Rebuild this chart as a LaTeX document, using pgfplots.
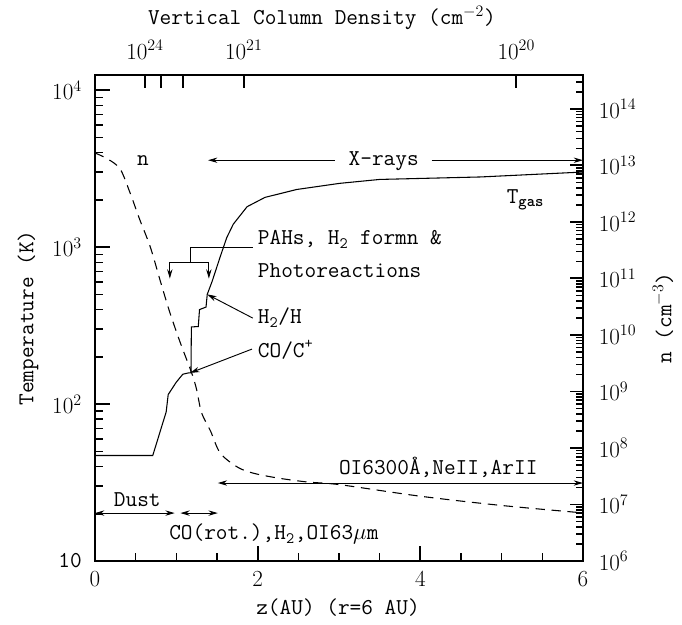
\documentclass[border=0pt]{standalone}
\usepackage{pgfplots}
\pgfplotsset{compat=1.18}
\usetikzlibrary{arrows.meta}
\renewcommand{\familydefault}{\ttdefault}

% gas temperature (z in AU, T in K)
\pgfplotstableread{
z T
0.00 47
0.71 47
0.76 57
0.82 72
0.875 89
0.90 115
1.00 138
1.08 155
1.15 158
1.18 158
1.185 310
1.27 312
1.285 400
1.365 415
1.38 500
1.44 605
1.54 870
1.62 1150
1.70 1400
1.87 1810
2.09 2075
2.48 2330
3.01 2550
3.50 2700
4.74 2800
6.00 3010
}\tgas

% density (z in AU, n in cm^-3)
\pgfplotstableread{
z n
0.00 1.66e13
0.16 1.29e13
0.31 8.6e12
0.43 3.3e12
0.55 1.1e12
0.68 3.6e11
0.80 9.3e10
0.92 2.5e10
1.05 7.2e9
1.19 2.1e9
1.25 1.07e9
1.31 4.2e8
1.42 2.0e8
1.54 8.1e7
1.75 4.6e7
1.94 3.6e7
2.24 2.95e7
2.61 2.5e7
3.01 2.24e7
4.00 1.4e7
5.00 9.6e6
6.00 7.1e6
}\dens

\begin{document}
\fontsize{17}{20}\selectfont
\begin{tikzpicture}[lab/.style={inner sep=0pt},
  arr/.style={line width=0.7pt,-{Stealth[length=7pt,width=4pt]}},
  darr/.style={line width=0.7pt,{Stealth[length=7pt,width=4pt]}-{Stealth[length=7pt,width=4pt]}},
  tk/.style={line width=1.2pt}, mtk/.style={line width=1pt}]
\begin{axis}[name=main,
  scale only axis, width=366pt, height=364.5pt,
  xmin=0, xmax=6, ymode=log, ymin=10, ymax=12500,
  axis line style={line width=1.4pt},
  tick align=inside,
  major tick style={black, line width=1.4pt},
  minor tick style={black, line width=1.2pt},
  xtick pos=left, ytick pos=left,
  major tick length=11pt, minor tick length=6pt,
  xtick={0,2,4,6}, minor x tick num=3,
  ytick={10,100,1000,10000},
  yticklabels={10,$10^2$,$10^3$,$10^4$},
  minor ytick={20,30,40,50,60,70,80,90,200,300,400,500,600,700,800,900,
    2000,3000,4000,5000,6000,7000,8000,9000},
  yticklabel style={xshift=-4pt},
  xticklabel style={yshift=-2pt},
  xlabel={z(AU) (r=6 AU)},
  ylabel={Temperature (K)},
  xlabel style={at={(axis description cs:0.498,-0.095)}, anchor=center},
  ylabel style={at={(axis description cs:-0.137,0.5)}, anchor=center},
  clip=false,
]
\addplot[line width=0.8pt] table[x=z, y=T] {\tgas};

% tick marks along the bottom and left edges
\pgfplotsinvokeforeach{2,4}{\draw[tk] (axis cs:#1,10) -- ++(0pt,11pt);}
\pgfplotsinvokeforeach{0.5,1,1.5,2.5,3,3.5,4.5,5,5.5}{\draw[mtk] (axis cs:#1,10) -- ++(0pt,6pt);}
\pgfplotsinvokeforeach{100,1000,10000}{\draw[tk] (axis cs:0,#1) -- ++(11pt,0pt);}
\pgfplotsinvokeforeach{20,30,40,50,60,70,80,90,200,300,400,500,600,700,800,900,2000,3000,4000,5000,6000,7000,8000,9000}{\draw[mtk] (axis cs:0,#1) -- ++(6pt,0pt);}

% X-rays
\draw[arr] (axis cs:2.95,3580) -- (axis cs:1.39,3580);
\draw[arr] (axis cs:4.14,3580) -- (axis cs:6,3580);
\node[anchor=mid] at (axis cs:3.55,3580) {X-rays};
\node[anchor=mid] at (axis cs:0.59,3580) {n};
\node[lab,anchor=mid west] at (axis cs:5.06,2040) {T\textsubscript{\textbf{gas}}};

% PAHs bracket
\draw[line width=0.7pt] (axis cs:1.94,1000) -- (axis cs:1.17,1000) -- (axis cs:1.17,803);
\draw[line width=0.7pt] (axis cs:0.92,803) -- (axis cs:1.40,803);
\draw[arr] (axis cs:0.92,803) -- (axis cs:0.92,630);
\draw[arr] (axis cs:1.40,803) -- (axis cs:1.40,630);
\node[lab,anchor=mid west] at (axis cs:2.0,1110) {PAHs, H\textsubscript{2} formn \&};
\node[lab,anchor=mid west] at (axis cs:2.0,692) {Photoreactions};

\draw[arr] (axis cs:1.94,353) -- (axis cs:1.38,500);
\node[lab,anchor=mid west] at (axis cs:2.0,350) {H\textsubscript{2}/H};
\draw[arr] (axis cs:1.93,224) -- (axis cs:1.17,158);
\node[lab,anchor=mid west] at (axis cs:2.0,214) {CO/C\textsuperscript{+}};

% emission regions
\draw[darr] (axis cs:1.51,31.4) -- (axis cs:6,31.4);
\node[anchor=mid] at (axis cs:4.22,38) {OI6300Å,NeII,ArII};
\draw[darr] (axis cs:0,20.2) -- (axis cs:0.98,20.2);
\draw[darr] (axis cs:1.05,20.2) -- (axis cs:1.51,20.2);
\node[anchor=mid] at (axis cs:0.52,23.8) {Dust};
\node[lab,anchor=mid west] at (axis cs:0.91,14.7) {CO(rot.),H\textsubscript{2},OI63$\mu$m};
\end{axis}

\begin{axis}[
  scale only axis, width=366pt, height=364.5pt,
  xmin=0, xmax=6, ymode=log, ymin=1e6, ymax=3.98e14,
  axis line style={line width=1.4pt},
  tick align=inside,
  major tick style={black, line width=1.4pt},
  minor tick style={black, line width=1.2pt},
  xtick pos=right, ytick pos=right,
  xticklabel pos=right, yticklabel pos=right,
  major tick length=10pt, minor tick length=5pt,
  xtick={0.615,0.81,1.08,1.83,5.18},
  xticklabels={$10^{24}$,{},{},$10^{21}$,$10^{20}$},
  xticklabel style={yshift=6pt},
  ytick={1e6,1e7,1e8,1e9,1e10,1e11,1e12,1e13,1e14},
  minor ytick={2e6,3e6,4e6,5e6,6e6,7e6,8e6,9e6,
    2e7,3e7,4e7,5e7,6e7,7e7,8e7,9e7,
    2e8,3e8,4e8,5e8,6e8,7e8,8e8,9e8,
    2e9,3e9,4e9,5e9,6e9,7e9,8e9,9e9,
    2e10,3e10,4e10,5e10,6e10,7e10,8e10,9e10,
    2e11,3e11,4e11,5e11,6e11,7e11,8e11,9e11,
    2e12,3e12,4e12,5e12,6e12,7e12,8e12,9e12,
    2e13,3e13,4e13,5e13,6e13,7e13,8e13,9e13,
    2e14,3e14},
  yticklabel style={xshift=6pt},
  xlabel={Vertical Column Density (cm$^{-2}$)},
  ylabel={n (cm$^{-3}$)},
  xlabel style={at={(axis description cs:0.465,1.117)}, anchor=center},
  ylabel style={at={(axis description cs:1.164,0.5)}, anchor=center},
]
\addplot[line width=0.8pt, dash pattern=on 7pt off 5pt, smooth, tension=0.5] table[x=z, y=n] {\dens};

% tick marks along the top and right edges
\pgfplotsinvokeforeach{0.615,0.81,1.08,1.83,5.18}{\draw[mtk] (axis cs:#1,3.98e14) -- ++(0pt,-8pt);}
\pgfplotsinvokeforeach{1e7,1e8,1e9,1e10,1e11,1e12,1e13,1e14}{\draw[tk] (axis cs:6,#1) -- ++(-10pt,0pt);}
\pgfplotsinvokeforeach{2e6,3e6,4e6,5e6,6e6,7e6,8e6,9e6,2e7,3e7,4e7,5e7,6e7,7e7,8e7,9e7,2e8,3e8,4e8,5e8,6e8,7e8,8e8,9e8,2e9,3e9,4e9,5e9,6e9,7e9,8e9,9e9,2e10,3e10,4e10,5e10,6e10,7e10,8e10,9e10,2e11,3e11,4e11,5e11,6e11,7e11,8e11,9e11,2e12,3e12,4e12,5e12,6e12,7e12,8e12,9e12,2e13,3e13,4e13,5e13,6e13,7e13,8e13,9e13,2e14,3e14}{\draw[mtk] (axis cs:6,#1) -- ++(-5pt,0pt);}
\end{axis}

\pgfresetboundingbox
\path ([shift={(-71.25pt,-48pt)}]main.south west) rectangle ([shift={(74.25pt,56.25pt)}]main.north east);
\end{tikzpicture}
\end{document}
